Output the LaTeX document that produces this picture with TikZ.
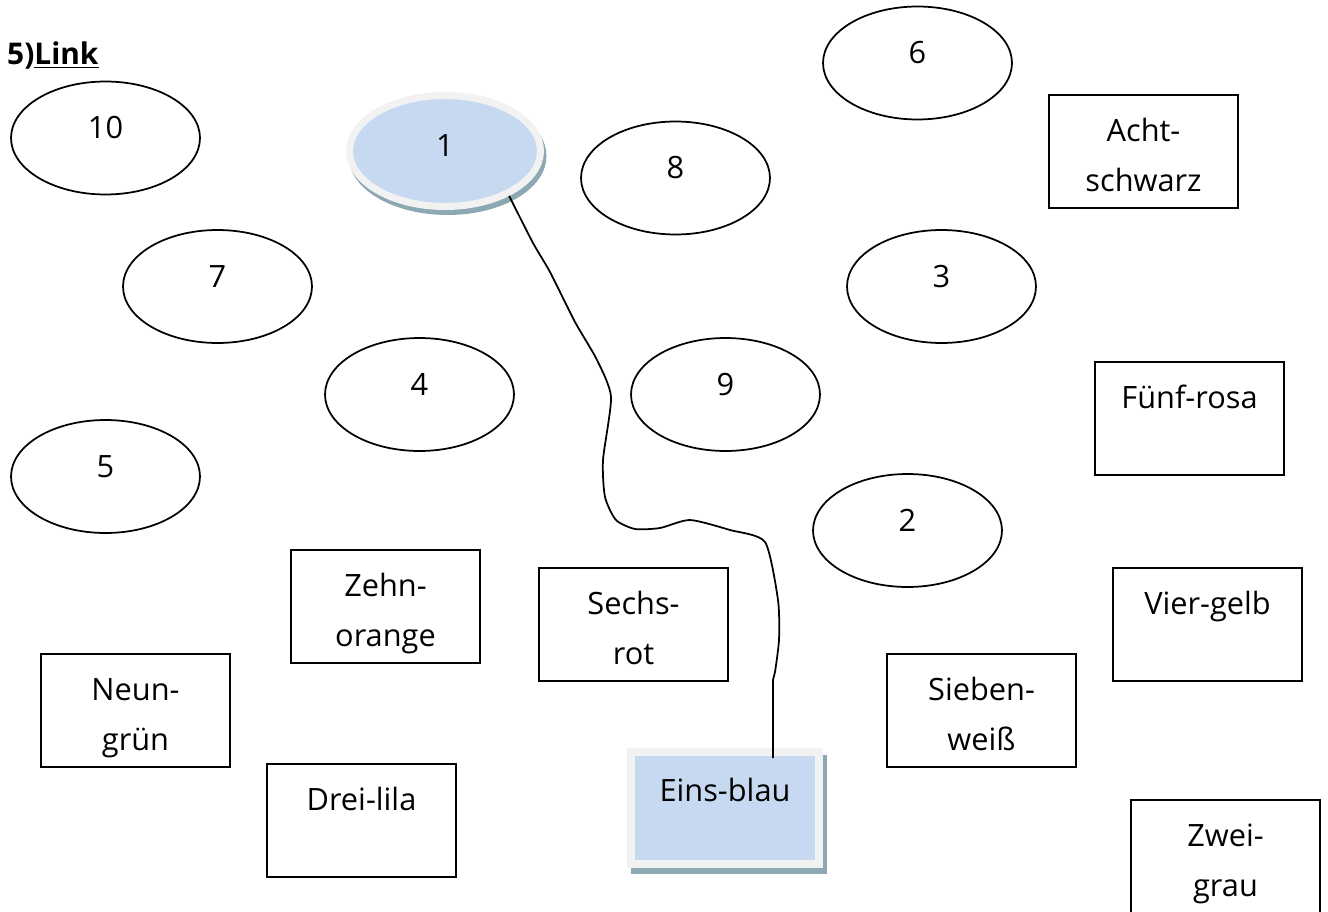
\documentclass[tikz,border=0pt]{standalone}
\usepackage{fontspec}
\setmainfont{Open Sans}
\usepackage{tikz}
\usetikzlibrary{shapes.geometric,shadows}
\definecolor{paleblue}{RGB}{198,217,241}
\definecolor{frame}{RGB}{242,242,242}
\definecolor{shadowteal}{RGB}{140,168,178}

\begin{document}
\begin{tikzpicture}[x=0.02cm,y=-0.02cm,
				font=\fontsize{17.5}{29}\selectfont,
				oval/.style={ellipse,draw,line width=0.035cm,minimum width=3.78cm,minimum height=2.26cm,
					inner sep=0pt,text height=0.5cm,text depth=0.46cm},
				card/.style={rectangle,draw,line width=0.035cm,text width=3.78cm,align=center,
					inner sep=0pt,text height=0.92cm,text depth=1.34cm},
				hub/.style={ellipse,fill=paleblue,draw=frame,line width=0.14cm,
					minimum width=3.82cm,minimum height=2.22cm,inner sep=0pt,text height=0.5cm,text depth=0.26cm,
					general shadow={shadow xshift=0.05cm,shadow yshift=-0.1cm,fill=shadowteal,draw=shadowteal,line width=0.14cm}},
				hubcard/.style={rectangle,fill=paleblue,draw=frame,line width=0.16cm,
					minimum width=3.76cm,minimum height=2.24cm,inner sep=0pt,text height=0.5cm,text depth=0.78cm,
					general shadow={shadow xshift=0.08cm,shadow yshift=-0.13cm,fill=shadowteal,draw=shadowteal,line width=0.16cm}},
				wire/.style={line width=0.035cm}]
				\useasboundingbox (0,0) rectangle (1328,912);
				\node[anchor=base west,font=\fontsize{17}{29}\selectfont\bfseries] (title) at (1,65) {5)\underline{Link}};
				\node[oval] (ten) at (105.5,138) {10};
				\node[hub] (one) at (445,151) {1};
				\node[oval] (eight) at (675.5,178) {8};
				\node[oval] (six) at (917.5,63) {6};
				\node[oval] (seven) at (217.5,286.5) {7};
				\node[oval] (three) at (941.5,286.5) {3};
				\node[oval] (four) at (419.5,394.5) {4};
				\node[oval] (nine) at (725.5,394.5) {9};
				\node[oval] (five) at (105.5,476.5) {5};
				\node[oval] (two) at (907.5,530.5) {2};
				\node[card] (acht) at (1143.5,151.5) {Acht-\\schwarz};
				\node[card] (fuenf) at (1189.5,418.5) {Fünf-rosa};
				\node[card] (zehn) at (385.5,606.5) {Zehn-\\orange};
				\node[card] (sechs) at (633.5,624.5) {Sechs-\\rot};
				\node[card] (vier) at (1207.5,624.5) {Vier-gelb};
				\node[card] (neun) at (135.5,710.5) {Neun-\\grün};
				\node[card] (sieben) at (981.5,710.5) {Sieben-\\weiß};
				\node[card] (drei) at (361.5,820.5) {Drei-lila};
				\node[card] (zwei) at (1225.5,856.5) {Zwei-\\grau};
				\node[hubcard] (eins) at (725,808) {Eins-blau};
				\coordinate (kink) at (773,680);
				\draw[wire] plot[smooth,tension=0.4] coordinates {(one.-35) (533,243) (550,272) (575,322) (597,360)
					(611,397) (603,460) (605,497) (616,520) (635,529) (660,528) (690,520) (730,530) (765,542)
					(778,600) (779,640) (775,672)} -- (kink) -- ([yshift=-0.2cm]kink |- eins.north);
\end{tikzpicture}
\end{document}
